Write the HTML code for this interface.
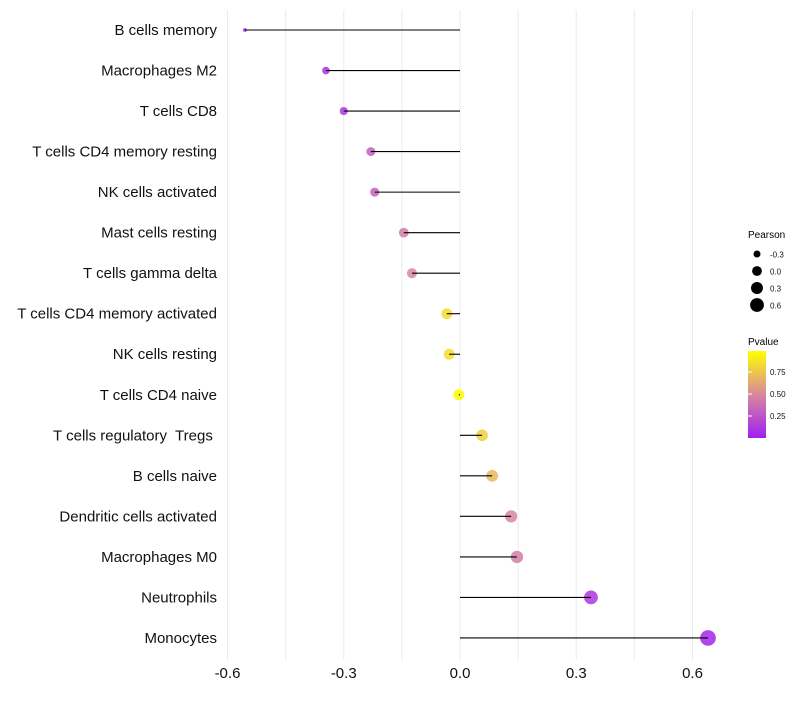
<!DOCTYPE html>
<html><head><meta charset="utf-8"><style>
body{margin:0;background:#fff;font-family:"Liberation Sans",sans-serif}
svg text{font-family:"Liberation Sans",sans-serif;white-space:pre}
</style></head><body>
<svg id="chart" width="800" height="700" xmlns="http://www.w3.org/2000/svg">
<defs><linearGradient id="pg" x1="0" y1="1" x2="0" y2="0">
<stop offset="0" stop-color="#A020F0"/><stop offset="0.5" stop-color="#D8889E"/><stop offset="1" stop-color="#FFFF00"/></linearGradient></defs>
<g id="grid"></g>
<g id="marks"></g>
<g id="axes"></g>
<g id="legend">
<text x="748" y="238" font-size="10">Pearson</text>
<text x="748" y="345" font-size="10">Pvalue</text>
<rect x="748" y="351" width="18" height="87" fill="url(#pg)"/>
</g>
</svg>
<script>
const categories=["B cells memory","Macrophages M2","T cells CD8","T cells CD4 memory resting","NK cells activated","Mast cells resting","T cells gamma delta","T cells CD4 memory activated","NK cells resting","T cells CD4 naive","T cells regulatory  Tregs ","B cells naive","Dendritic cells activated","Macrophages M0","Neutrophils","Monocytes"];
const pearson=[-0.555,-0.346,-0.30,-0.23,-0.22,-0.145,-0.124,-0.034,-0.028,-0.003,0.057,0.083,0.132,0.147,0.338,0.64];
const pvalues=[0.03,0.08,0.12,0.3,0.32,0.45,0.5,0.85,0.86,0.98,0.8,0.7,0.5,0.45,0.1,0.03];
const xTicks=[-0.6,-0.3,0.0,0.3,0.6];
const xTickLabels=["-0.6","-0.3","0.0","0.3","0.6"];
const sizeLegend=[-0.3,0.0,0.3,0.6];
const pTicks=[0.25,0.5,0.75];

const NS="http://www.w3.org/2000/svg";
const x=v=>460+v*387.5;
const y=i=>30+i*40.53;
const r=v=>Math.sqrt(Math.max(1,23.96+39.1*v));
const pY=p=>438-p*88;
function mix(a,b,t){return a.map((c,k)=>Math.round(c+(b[k]-c)*t));}
function col(p){const a=[160,32,240],m=[216,136,158],b=[255,255,0];
 const c=p<0.5?mix(a,m,p/0.5):mix(m,b,(p-0.5)/0.5);return "rgb("+c.join(",")+")";}
function mk(t,attrs,parent){const e=document.createElementNS(NS,t);for(const k in attrs)e.setAttribute(k,attrs[k]);document.getElementById(parent).appendChild(e);return e;}
const grid=[-0.6,-0.45,-0.3,-0.15,0,0.15,0.3,0.45,0.6];
grid.forEach(g=>{const l=mk("line",{x1:x(g),x2:x(g),y1:10,y2:660,stroke:"#ebebeb","stroke-width":1},"grid");

});
categories.forEach((c,i)=>{
 const v=pearson[i];
 const d=mk("circle",{cx:x(v),cy:y(i),r:r(v)*1.08+0.3,fill:col(pvalues[i]),"fill-opacity":0.85},"marks");
 
 
 const s=mk("line",{x1:x(0),x2:x(v),y1:y(i),y2:y(i),stroke:"#000","stroke-width":1.1},"marks");
 
 
 const t=mk("text",{x:217,y:y(i)+5,"text-anchor":"end","font-size":15,fill:"#111"},"axes");
 t.textContent=c;
 
 
});
xTicks.forEach((v,i)=>{const t=mk("text",{x:x(v),y:678,"text-anchor":"middle","font-size":15,fill:"#111"},"axes");
 t.textContent=xTickLabels[i];
 
 });
sizeLegend.forEach((v,i)=>{const cy=254+i*17;
 const c=mk("circle",{cx:757,cy:cy,r:r(v),fill:"#000"},"legend");
 
 
 const t=mk("text",{x:770,y:cy+3.5,"font-size":8,fill:"#111"},"legend");
 t.textContent=v.toFixed(1);
 
 });
pTicks.forEach(p=>{const t=mk("text",{x:770,y:pY(p)+3,"font-size":8,fill:"#111"},"legend");
 t.textContent=p.toFixed(2);
 
 
 const l=mk("line",{x1:748,x2:752,y1:pY(p),y2:pY(p),stroke:"#fff"},"legend");
 
 });
</script>
</body></html>
